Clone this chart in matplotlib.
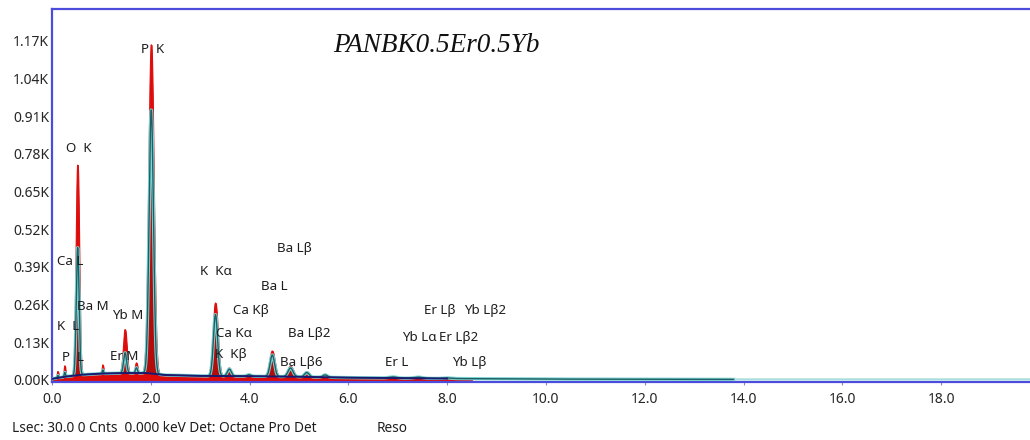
import matplotlib
matplotlib.use('Agg')
import matplotlib.pyplot as plt
import numpy as np

plt.rcParams['font.family'] = ['Noto Sans', 'DejaVu Sans']

# EDS spectrum of PANBK0.5Er0.5Yb, counts vs energy (keV)
# peak table: line energy, measured height, fitted height (above background), sigma
peak_kev = [0.12, 0.26, 0.52, 1.03, 1.48, 1.71, 2.01, 3.31, 3.59, 3.99, 4.46, 4.83, 5.16, 5.53, 6.90, 7.41, 8.00]
peak_meas = [22, 38, 725, 30, 150, 35, 1135, 252, 28, 6, 88, 36, 18, 10, 5, 5, 3]
peak_fit = [8, 15, 440, 12, 70, 18, 910, 212, 24, 5, 74, 30, 15, 8, 4, 4, 2]
peak_sigma = [0.012, 0.012, 0.028, 0.012, 0.030, 0.020, 0.044, 0.042, 0.040, 0.040, 0.045, 0.050, 0.045, 0.045, 0.08, 0.08, 0.08]

# continuum (bremsstrahlung) read at a few energies
bg_kev = [0.0, 0.3, 0.6, 1.0, 1.5, 1.9, 2.3, 3.0, 4.0, 5.0, 6.0, 8.0, 10.0, 13.8]
bg_cnt = [4, 12, 18, 22, 24, 24, 17, 14, 13, 11, 8, 5, 3, 2]

xticks = [0, 2, 4, 6, 8, 10, 12, 14, 16, 18]
yticks = [0, 130, 260, 390, 520, 650, 780, 910, 1040, 1170]

# element line labels: text, energy (left edge), counts
line_text = ['P  K', 'O  K', 'Ca L', 'Ba M', 'Yb M', 'K  L', 'P  L', 'Er M',
             'K  K\u03b1', 'Ba L\u03b2', 'Ba L', 'Ca K\u03b2', 'Ca K\u03b1', 'K  K\u03b2',
             'Ba L\u03b22', 'Ba L\u03b26', 'Er L', 'Er L\u03b2', 'Yb L\u03b22',
             'Yb L\u03b1', 'Er L\u03b22', 'Yb L\u03b2']
line_x = [1.80, 0.29, 0.10, 0.50, 1.22, 0.10, 0.21, 1.17,
          3.00, 4.55, 4.24, 3.66, 3.33, 3.30,
          4.77, 4.61, 6.75, 7.54, 8.35,
          7.08, 7.84, 8.09]
line_y = [1140, 797, 408, 252, 224, 183, 76, 80,
          373, 455, 322, 241, 162, 87,
          162, 59, 59, 241, 241,
          148, 148, 59]

kev = np.arange(0, 19.8, 0.004)
bg = np.interp(kev, bg_kev, bg_cnt, right=2)
meas = bg.copy()
fit = bg.copy()
for e, hm, hf, s in zip(peak_kev, peak_meas, peak_fit, peak_sigma):
    meas += hm * np.exp(-0.5 * ((kev - e) / (1.12 * s)) ** 2)
    fit += hf * np.exp(-0.5 * ((kev - e) / s) ** 2)

fig = plt.figure(figsize=(10.3, 4.4), dpi=100)
ax = fig.add_axes([52 / 1030, 58 / 440, 978 / 1030, 373 / 440])

# measured spectrum (red), fit overlay (teal), continuum (navy)
m = kev <= 8.5
ax.fill_between(kev[m], 0, meas[m], color='#dd0a0a', lw=0.8, zorder=2)
ax.plot(kev[m], meas[m], color='#e01010', lw=0.8, zorder=2)
mf = kev <= 13.8
ax.fill_between(kev[mf], bg[mf], fit[mf], color='#3a1010', alpha=0.25, lw=0, zorder=3)
ax.plot(kev[mf], fit[mf], color='#7fd4d4', lw=2.4, zorder=3)
ax.plot(kev[mf], fit[mf], color='#1f5f66', lw=1.0, zorder=4)
ax.plot(kev[~mf], fit[~mf], color='#a9dede', lw=1.6, zorder=3)
ax.plot(bg_kev[:-2], bg_cnt[:-2], color='#1a1a70', lw=1.4, zorder=5)

for t, x, y in zip(line_text, line_x, line_y):
    ax.text(x, y, t, fontsize=9.6, color='#1e1e1e', ha='left', va='center', zorder=6)

ax.set_xlim(0, 19.8)
ax.set_ylim(-7, 1280)
ax.set_xticks(xticks)
ax.set_xticklabels(['%.1f' % v for v in xticks])
ax.set_yticks(yticks)
ax.set_yticklabels(['%.2fK' % (v / 1000.0) for v in yticks])
ax.tick_params(axis='x', length=2, pad=5, labelsize=10, colors='#262626', color='#8888cc')
ax.tick_params(axis='y', length=1, pad=1, labelsize=10, colors='#262626', color='#8888cc')

for side in ['left', 'top', 'bottom']:
    ax.spines[side].set_color('#4b4bdc')
    ax.spines[side].set_linewidth(1.6)
ax.spines['right'].set_visible(False)

fig.text(333 / 1030, 1 - 45 / 440, 'PANBK0.5Er0.5Yb', family='Liberation Serif', style='italic',
         fontsize=19.5, color='#111111', va='center', ha='left')
fig.text(12 / 1030, 1 - 428 / 440, 'Lsec: 30.0 0 Cnts  0.000 keV Det: Octane Pro Det',
         fontsize=9.8, color='#1e1e1e', va='center', ha='left')
fig.text(377 / 1030, 1 - 428 / 440, 'Reso', fontsize=9.8, color='#1e1e1e', va='center', ha='left')

fig.savefig('out.png', dpi=100)
